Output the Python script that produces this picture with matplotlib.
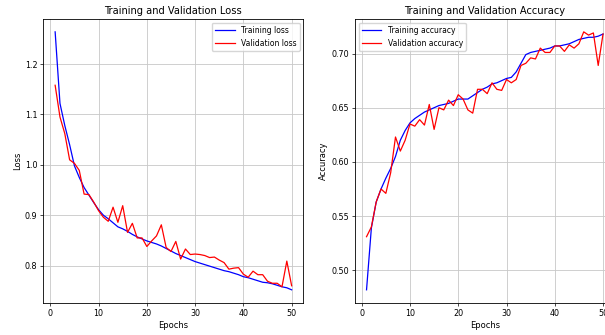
import numpy as np
import matplotlib
matplotlib.use("Agg")
import matplotlib.pyplot as plt

# per-epoch history of the training run
epochs = np.arange(1, 51)

train_loss = [1.264, 1.122, 1.078, 1.040, 0.998, 0.975, 0.955, 0.940, 0.925, 0.911,
              0.900, 0.893, 0.885, 0.877, 0.873, 0.868, 0.862, 0.857, 0.853, 0.849,
              0.846, 0.843, 0.839, 0.834, 0.829, 0.824, 0.820, 0.816, 0.812, 0.808,
              0.805, 0.802, 0.799, 0.796, 0.793, 0.790, 0.788, 0.785, 0.782, 0.778,
              0.776, 0.773, 0.770, 0.767, 0.766, 0.764, 0.761, 0.758, 0.756, 0.752]
val_loss = [1.158, 1.095, 1.062, 1.010, 1.003, 0.989, 0.942, 0.941, 0.926, 0.909,
            0.896, 0.888, 0.916, 0.886, 0.919, 0.866, 0.884, 0.855, 0.855, 0.838,
            0.849, 0.859, 0.881, 0.836, 0.828, 0.848, 0.813, 0.833, 0.822, 0.823,
            0.822, 0.820, 0.816, 0.817, 0.811, 0.806, 0.793, 0.795, 0.796, 0.783,
            0.777, 0.789, 0.782, 0.782, 0.769, 0.765, 0.765, 0.758, 0.809, 0.760]

train_acc = [0.482, 0.539, 0.563, 0.575, 0.585, 0.594, 0.605, 0.620, 0.629, 0.636,
             0.640, 0.643, 0.646, 0.648, 0.650, 0.652, 0.653, 0.654, 0.656, 0.658,
             0.658, 0.658, 0.661, 0.664, 0.667, 0.669, 0.672, 0.673, 0.675, 0.677,
             0.678, 0.683, 0.691, 0.699, 0.701, 0.702, 0.703, 0.704, 0.705, 0.707,
             0.707, 0.708, 0.709, 0.711, 0.713, 0.714, 0.715, 0.715, 0.716, 0.718]
val_acc = [0.531, 0.540, 0.563, 0.575, 0.571, 0.590, 0.623, 0.610, 0.620, 0.635,
           0.633, 0.639, 0.634, 0.653, 0.630, 0.650, 0.648, 0.657, 0.652, 0.662,
           0.658, 0.648, 0.645, 0.667, 0.667, 0.663, 0.673, 0.667, 0.666, 0.676,
           0.673, 0.676, 0.689, 0.691, 0.696, 0.695, 0.705, 0.701, 0.701, 0.707,
           0.707, 0.702, 0.708, 0.705, 0.709, 0.720, 0.717, 0.719, 0.689, 0.718]

plt.rcParams.update({
    "font.size": 5.8,
    "axes.linewidth": 0.6,
    "xtick.major.size": 2.0,
    "ytick.major.size": 2.0,
    "xtick.major.width": 0.5,
    "ytick.major.width": 0.5,
    "xtick.major.pad": 2.2,
    "ytick.major.pad": 2.2,
    "axes.titlepad": 3.5,
    "axes.labelpad": 2.2,
})

fig = plt.figure(figsize=(6.05, 3.35), dpi=100)
# second panel runs past the right edge of the canvas
ax1 = fig.add_axes([0.0716, 0.0964, 0.430, 0.847])
ax2 = fig.add_axes([0.5863, 0.0964, 0.430, 0.847])

ax1.plot(epochs, train_loss, "b", lw=0.9, label="Training loss")
ax1.plot(epochs, val_loss, "r", lw=0.9, label="Validation loss")
ax1.set_title("Training and Validation Loss", fontsize=7.1)
ax1.set_xlabel("Epochs", fontsize=6.0)
ax1.set_ylabel("Loss", fontsize=6.0)
ax1.legend(loc="upper right", fontsize=5.5, handlelength=2.6)

ax2.plot(epochs, train_acc, "b", lw=0.9, label="Training accuracy")
ax2.plot(epochs, val_acc, "r", lw=0.9, label="Validation accuracy")
ax2.set_title("Training and Validation Accuracy", fontsize=7.1)
ax2.set_xlabel("Epochs", fontsize=6.0)
ax2.set_ylabel("Accuracy", fontsize=6.0)
ax2.legend(loc="upper left", fontsize=5.5, handlelength=2.6)

for ax in (ax1, ax2):
    ax.grid(True, color="#c8c8c8", linewidth=0.6)
    ax.set_xticks([0, 10, 20, 30, 40, 50])

fig.savefig("out.png", dpi=100)
